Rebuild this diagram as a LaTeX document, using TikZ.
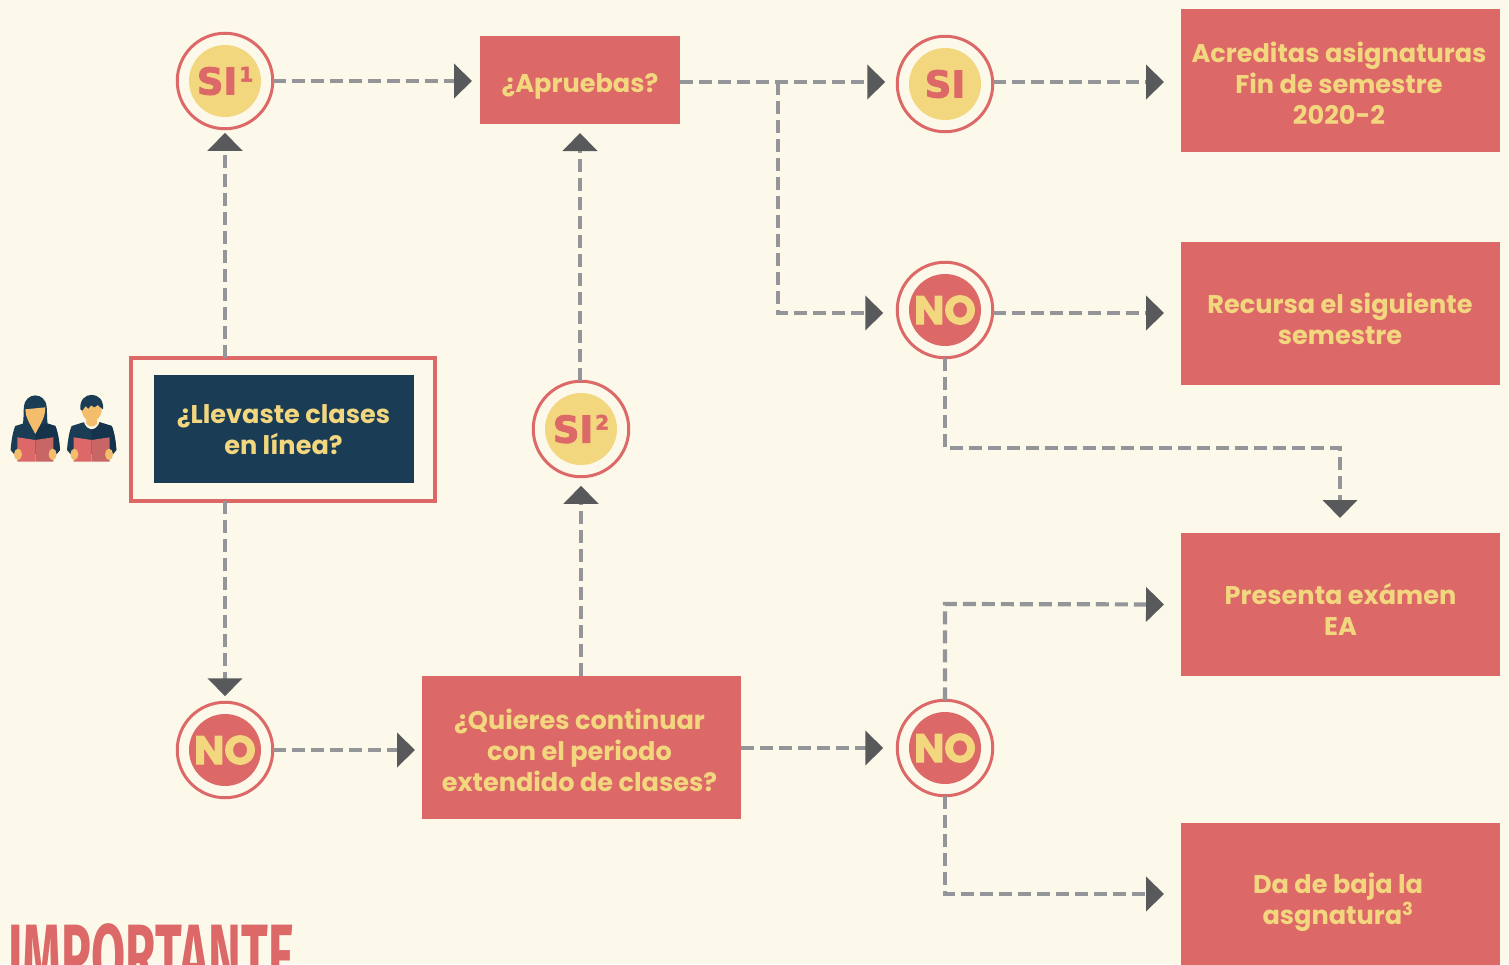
\documentclass[tikz,border=0pt]{standalone}
\usepackage{fontspec}
\usetikzlibrary{arrows.meta,calc}
\setmainfont{Poppins}
\newfontfamily\heavy[BoldFeatures={FakeBold=2.5}]{Poppins}
\newfontfamily\heavier[BoldFeatures={FakeBold=2.5}]{DejaVu Sans}
\newfontfamily\condensed[FakeStretch=0.55]{Fira Sans}
\definecolor{bgc}{HTML}{FDF9EA}
\definecolor{redc}{HTML}{DC6868}
\definecolor{yelc}{HTML}{F3D77F}
\definecolor{navyc}{HTML}{1A3C54}
\definecolor{navyd}{HTML}{15334A}
\definecolor{linec}{HTML}{939598}
\definecolor{tipc}{HTML}{58595B}
\definecolor{skin}{HTML}{F4BD6C}
\definecolor{redd}{HTML}{C86565}
\newcommand{\smallsup}[1]{\kern2pt\raisebox{13pt}{\fontsize{20}{20}\selectfont #1}}
\tikzset{
  boxtext/.style={text=yelc,align=center,inner sep=0pt,font=\fontsize{25.6}{31}\selectfont\bfseries},
  redbox/.style={fill=redc,draw=none,minimum width=319pt,minimum height=143pt,inner sep=0pt,outer sep=0pt},
  ring/.style={circle,draw=redc,line width=3pt,fill=bgc,minimum size=95.5pt,inner sep=0pt,outer sep=0pt},
  yescore/.style={circle,fill=yelc,minimum size=72pt,inner sep=0pt,text=redc,font=\fontsize{37}{37}\selectfont\heavier\bfseries},
  nocore/.style={circle,fill=redc,minimum size=72pt,inner sep=0pt,text=yelc,font=\fontsize{40}{40}\selectfont\heavy\bfseries},
  flow/.style={draw=linec,line width=4.2pt,dash pattern=on 13pt off 6pt,
    -{Triangle[length=18pt,width=34pt,color=tipc,fill=tipc]}},
}
\newcommand{\reader}[2]{%
  \begin{scope}[shift={(#1,350)},x=0.3333pt,y=-0.3333pt]
    \fill[navyc] (-74,300) .. controls (-72,270) and (-66,240) .. (-60,228) -- (-25,217) -- (25,217) -- (60,228) .. controls (66,240) and (72,270) .. (74,300) -- (64,312) -- (-64,312) -- cycle;
    \fill[navyd] (0,217) -- (25,217) -- (60,228) .. controls (66,240) and (72,270) .. (74,300) -- (64,312) -- (0,312) -- cycle;
    #2
    \fill[redc] (-54,262) -- (0,270) -- (0,335) -- (-54,335) -- cycle;
    \fill[redd] (54,262) -- (0,270) -- (0,335) -- (54,335) -- cycle;
    \fill[skin] (-52,313) ellipse (12 and 17);
    \fill[skin] (52,313) ellipse (12 and 17);
  \end{scope}}
\begin{document}
\begin{tikzpicture}[x=1pt,y=-1pt]
\useasboundingbox (0,0) rectangle (1509,964);
\clip (0,0) rectangle (1509,964);
\fill[bgc] (0,0) rectangle (1509,964);

% readers
\reader{35.3}{%
    \fill[navyc] (-37,222) .. controls (-34,200) and (-36,180) .. (-34,170) .. controls (-30,125) and (30,125) .. (34,170) .. controls (36,180) and (34,200) .. (37,222) -- cycle;
    \fill[skin] (-30,178) -- (30,172) .. controls (30,200) and (20,215) .. (0,252) .. controls (-20,215) and (-30,200) .. (-30,178) -- cycle;
}
\reader{91.7}{%
    \fill[bgc] (-24,214) .. controls (-15,245) and (15,245) .. (24,214) -- cycle;
    \fill[skin] (-16,200) -- (16,200) -- (16,222) .. controls (5,232) and (-5,232) .. (-16,222) -- cycle;
    \fill[skin] (-30,165) -- (30,165) -- (30,185) .. controls (25,205) and (12,214) .. (0,214) .. controls (-12,214) and (-25,205) .. (-30,185) -- cycle;
    \fill[navyc] (-34,178) .. controls (-40,120) and (40,120) .. (34,178) -- (26,172) -- (18,165) -- (8,172) -- (-2,166) -- (-10,176) -- (-18,168) -- (-28,182) -- cycle;
}

% boxes
\node[draw=redc,line width=4pt,fill=bgc,minimum width=304pt,minimum height=143pt,inner sep=0pt,outer sep=0pt] (frame) at (283,429) {};
\node[fill=navyc,minimum width=260pt,minimum height=108pt,inner sep=0pt] (online) at (284,429) {};
\node[boxtext] (tonline) at (283.5,430) {¿Llevaste clases\\en línea?};
\node[redbox,minimum width=200pt,minimum height=88pt] (aprob) at (580,80) {};
\node[boxtext] (taprob) at (580,86) {¿Apruebas?};
\node[redbox] (acred) at (1340.5,80.5) {};
\node[boxtext] (tacred) at (1339,83.5) {Acreditas asignaturas\\Fin de semestre\\2020-2};
\node[redbox] (recur) at (1340.5,313.5) {};
\node[boxtext] (trecur) at (1340,318.5) {Recursa el siguiente\\semestre};
\node[redbox] (exam) at (1340.5,604.5) {};
\node[boxtext] (texam) at (1340.5,609.5) {Presenta exámen\\EA};
\node[redbox] (baja) at (1340.5,894.5) {};
\node[boxtext] (tbaja) at (1338,902.5) {Da de baja la\\asgnatura\textsuperscript{3}};
\node[redbox] (quiere) at (581.5,747.5) {};
\node[boxtext] (tquiere) at (579.5,750.5) {¿Quieres continuar\\con el periodo\\extendido de clases?};

% rings
\node[ring] (r1) at (225,81) {};
\node[yescore] (si1) at (225,81) {SI\smallsup{1}};
\node[ring] (r2) at (945,84) {};
\node[yescore] (si3) at (945,84) {SI};
\node[ring] (r3) at (945,310) {};
\node[nocore] (no2) at (945,310) {NO};
\node[ring] (r4) at (581,429) {};
\node[yescore] (si2) at (581,429) {SI\smallsup{2}};
\node[ring] (r5) at (225,750) {};
\node[nocore] (no1) at (225,750) {NO};
\node[ring] (r6) at (945,748) {};
\node[nocore] (no3) at (945,748) {NO};

% connectors
\coordinate (branch) at (778,82);
\coordinate (bend1) at (778,313);
\coordinate (bend2) at (945,448);
\coordinate (bend3) at (1340,448);
\coordinate (bend4) at (945,604);
\coordinate (bend5) at (945,894);

\draw[flow,shorten >=4pt] (frame.north -| r1) -- (r1.south);
\draw[flow,shorten >=6pt] (frame.south -| r5) -- (r5.north);
\draw[flow,shorten >=8pt] (r1.east) -- (aprob.west |- r1);
\draw[flow,shorten >=7pt] (r5.east) -- (quiere.west |- r5);
\draw[flow,shorten >=9pt] (aprob.north |- r4.north) -- (aprob.south);
\draw[flow,shorten >=9pt] (quiere.north -| r4) -- (r4.south);
\draw[flow,shorten >=12pt] (aprob.east |- branch) -- (r2.west |- branch);
\draw[flow,shorten >=14pt] (branch) -- (bend1) -- (r3.west |- bend1);
\draw[flow,shorten >=17pt] (r2.east |- branch) -- (acred.west |- branch);
\draw[flow,shorten >=17pt] (r3.east |- bend1) -- (recur.west |- bend1);
\draw[flow,shorten >=15pt] (r3.south) -- (bend2) -- (bend3) -- (exam.north -| bend3);
\draw[flow,shorten >=14pt] (quiere.east |- r6) -- (r6.west);
\draw[flow,shorten >=17pt] (r6.north) -- (bend4) -- (exam.west);
\draw[flow,shorten >=17pt] (r6.south) -- (bend5) -- (baja.west |- bend5);

\node[anchor=base west,inner sep=0pt,text=redc,font=\fontsize{90}{90}\selectfont\condensed\bfseries] (imp) at (8,987) {IMPORTANTE};
\end{tikzpicture}
\end{document}
